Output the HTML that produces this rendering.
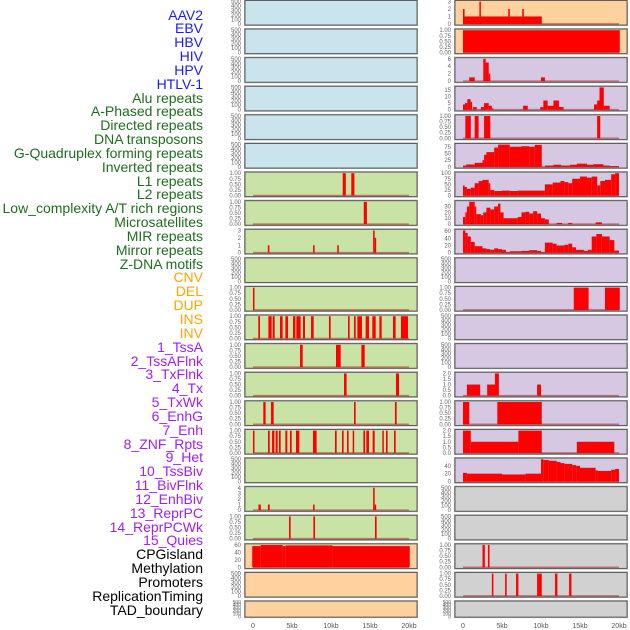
<!DOCTYPE html>
<html><head><meta charset="utf-8">
<style>
html,body{margin:0;padding:0;background:#fff;}
#wrap{position:relative;width:630px;height:630px;overflow:hidden;}
.lab{position:absolute;right:427px;font-family:"Liberation Sans",sans-serif;font-size:14px;line-height:14px;white-space:nowrap;}
svg{position:absolute;left:0;top:0;}
</style></head>
<body>
<div id="wrap">
<div id="labels"></div>
<svg id="chart" width="630" height="630"></svg>
</div>
<script>
// ---- data ----
const labelNames = ["AAV2","EBV","HBV","HIV","HPV","HTLV-1","Alu repeats","A-Phased repeats","Directed repeats","DNA transposons","G-Quadruplex forming repeats","Inverted repeats","L1 repeats","L2 repeats","Low_complexity A/T rich regions","Microsatellites","MIR repeats","Mirror repeats","Z-DNA motifs","CNV","DEL","DUP","INS","INV","1_TssA","2_TssAFlnk","3_TxFlnk","4_Tx","5_TxWk","6_EnhG","7_Enh","8_ZNF_Rpts","9_Het","10_TssBiv","11_BivFlnk","12_EnhBiv","13_ReprPC","14_ReprPCWk","15_Quies","CPGisland","Methylation","Promoters","ReplicationTiming","TAD_boundary"];
const labelColors = ["#1a1aff","#1a1aff","#1a1aff","#1a1aff","#1a1aff","#1a1aff","#1e6e1e","#1e6e1e","#1e6e1e","#1e6e1e","#1e6e1e","#1e6e1e","#1e6e1e","#1e6e1e","#1e6e1e","#1e6e1e","#1e6e1e","#1e6e1e","#1e6e1e","#ffa500","#ffa500","#ffa500","#ffa500","#ffa500","#a020f0","#a020f0","#a020f0","#a020f0","#a020f0","#a020f0","#a020f0","#a020f0","#a020f0","#a020f0","#a020f0","#a020f0","#a020f0","#a020f0","#a020f0","#000","#000","#000","#000","#000"];
const xTickValues = [0,5,10,15,20];
const xTickLabels = ["0","5kb","10kb","15kb","20kb"];
const emptyTicks = [0,100,200,300,400,500];
const binTicks = [0,0.25,0.5,0.75,1];
const binTickLabels = ["0.00","0.25","0.50","0.75","1.00"];

const L6 = [[11.5,11.9,1],[12.6,13.0,1]];
const L7 = [[14.2,14.6,1]];
const L8 = [[1.9,2.1,1],[7.7,7.9,1],[10.8,11.0,1],[15.4,15.6,3],[15.6,15.7,2]];
const L10 = [[0,0.1,1]];
const L11 = [[0.68,0.9,1],[1.97,2.39,1],[2.52,2.78,1],[3.46,3.8,1],[4.15,4.49,1],[5.13,5.43,1],[5.56,6.11,1],[6.41,6.67,1],[7.44,7.78,1],[9.74,9.96,1],[12.18,12.39,1],[12.95,13.16,1],[13.38,13.97,1],[14.44,14.87,1],[15.3,15.73,1],[16.2,16.5,1],[17.95,18.29,1],[18.97,19.87,1]];
const L12 = [[6.03,6.37,1],[10.64,11.24,1],[13.89,14.32,1]];
const L13 = [[11.67,12.0,1],[18.33,18.72,1]];
const L14 = [[1.32,1.62,1],[2.31,2.65,1],[12.95,13.16,1],[18.2,18.42,1]];
const L15 = [[0,0.1,1],[1.92,2.14,1],[2.44,2.74,1],[2.9,3.16,1],[3.33,3.55,1],[4.15,4.4,1],[4.74,4.96,1],[5.51,5.94,1],[7.69,8.16,1],[10.51,10.73,1],[11.41,11.62,1],[12.05,12.26,1],[12.78,12.95,1],[14.15,14.36,1],[14.53,14.87,1],[15.34,15.6,1],[16.58,16.75,1],[17.05,17.26,1],[18.08,18.29,1]];
const L17 = [[0.7,1.0,1],[1.92,2.14,1],[7.7,7.9,1],[15.4,15.6,4],[15.6,15.7,1]];
const L18 = [[4.62,4.83,1],[7.74,7.95,1],[15.64,15.85,1]];
const L19 = [[-0.1,1.0,57],[1.0,3.8,60],[3.8,4.2,57],[4.2,10.2,59],[10.2,20.1,57]];

const R0 = [[0,10.1,1],[0,0.2,2],[2.1,2.2,3],[5.8,6.0,2],[7.6,7.8,2]];
const R1 = [[0,20.1,1]];
const R2 = [[0.8,1.5,1],[2.6,2.9,6],[2.9,3.3,5],[3.3,3.5,2],[10,10.5,1]];
const R3 = [[0,0.26,4],[0.26,0.56,5],[0.56,0.98,8],[0.98,1.15,6],[1.3,1.75,2],[2.3,2.7,2],[2.7,3.3,5],[3.3,3.7,3],[3.7,3.8,1],[7.7,8.3,3],[9.9,10.3,2],[10.3,10.85,7],[10.85,11.6,3],[11.6,12.3,7],[12.3,12.9,2],[16.8,17.2,4],[17.2,17.5,7],[17.5,18.05,17],[18.05,18.8,3]];
const R4 = [[0.3,1.0,1],[1.5,2.0,1],[2.7,3.5,1],[17.2,17.6,1]];
const R5 = [[0,0.4,5],[0.4,1.5,9],[1.5,2.5,15],[2.5,2.7,25],[2.7,3,45],[3,4,55],[4,4.5,72],[4.5,6,83],[6,7.5,75],[7.5,8.5,77],[8.5,9.2,75],[9.2,10.1,82],[10.5,11.6,5],[11.6,12.6,8],[12.6,13.7,5],[13.7,14.6,8],[14.6,15.9,12],[15.9,16.7,8],[16.7,18,10],[18,18.8,5],[18.8,20,3]];
const R6 = [[0,0.2,45],[0.2,0.5,38],[0.5,1,30],[1,1.5,35],[1.5,2,55],[2,2.5,65],[2.5,3.3,70],[3.3,3.5,55],[3.5,4,25],[4,5,20],[5,6,22],[6,7,20],[7,10.5,22],[10.5,11.5,50],[11.5,12.5,58],[12.5,13,65],[13,13.5,60],[13.5,14,55],[14,15,75],[15,15.9,85],[15.9,16.5,80],[16.5,17.2,85],[17.2,17.6,45],[17.6,18.2,65],[18.2,19,70],[19,19.5,95],[19.5,20,100]];
const R7 = [[0,0.3,12],[0.3,0.5,20],[0.5,0.8,30],[0.8,1.5,38],[1.5,1.7,30],[1.7,2.3,17],[2.3,2.6,15],[2.6,3,20],[3,3.5,28],[3.5,4,25],[4,4.5,30],[4.5,4.8,35],[4.8,5.2,20],[5.2,7,10],[7,7.5,12],[7.5,8,20],[8,8.5,21],[8.5,9,18],[9,9.5,22],[9.5,10,18],[10,10.5,10],[10.5,11,8],[12,12.7,2],[13.5,14,2],[17,17.8,3]];
const R8 = [[0,0.3,62],[0.3,0.6,55],[0.6,1,45],[1,1.5,30],[1.5,2.5,18],[2.5,3,12],[3,3.5,10],[3.5,4,8],[4,4.5,12],[4.5,5,10],[5,5.5,8],[5.5,6,2],[6,7.5,4],[7.5,8.5,5],[8.5,9.5,7],[9.5,10,5],[10,10.5,2],[10.5,11.5,28],[11.5,12,25],[12,13,20],[13,13.5,22],[13.5,14,25],[14,14.5,15],[14.5,15.5,8],[15.5,16,5],[16,16.5,8],[16.5,17.1,45],[17.1,17.8,52],[17.8,18.8,45],[18.8,19.4,35],[19.4,20,6]];
const R10 = [[14.2,16.1,1],[18.2,20.1,1]];
const R13 = [[0.5,2.2,1],[3.1,4.1,1],[4.1,4.6,2],[9.5,10,1]];
const R14 = [[0,0.8,1],[4.4,10.1,1]];
const R15 = [[0,1,2],[1,7.1,1],[7.1,10.1,2],[14.6,19.4,1]];
const R16 = [[0,0.5,22],[0.5,5,20],[5,8,18],[8,10,20],[10,10.3,57],[10.3,11,55],[11,12,53],[12,12.5,50],[12.5,13,47],[13,14,45],[14,14.5,42],[14.5,15,40],[15,17,35],[17,17.3,28],[17.3,19,27],[19,19.5,30],[19.5,20,32]];
const R19 = [[2.5,2.8,1],[3.2,3.4,1]];
const R20 = [[3.7,3.9,1],[5.4,5.6,1],[6.8,7.1,1],[9.5,10.1,1],[11.8,12.1,1],[13.6,13.9,1]];

const BLUE="#c9e4ec", GREEN="#c9e2a6", ORANGE="#ffd19e", LAV="#d6c7e3", GREY="#d1d1d1";
function P(data,max,ticks,tl){return {data:data,max:max,ticks:ticks,tl:tl};}
const E = null;
const leftPanels = [E,E,E,E,E,E,
 P(L6,1,binTicks,binTickLabels),P(L7,1,binTicks,binTickLabels),P(L8,3,[0,1,2,3],["0","1","2","3"]),E,
 P(L10,1,binTicks,binTickLabels),P(L11,1,binTicks,binTickLabels),P(L12,1,binTicks,binTickLabels),P(L13,1,binTicks,binTickLabels),
 P(L14,1,binTicks,binTickLabels),P(L15,1,binTicks,binTickLabels),E,P(L17,4,[0,1,2,3,4],["0","1","2","3","4"]),
 P(L18,1,binTicks,binTickLabels),P(L19,60,[0,20,40,60],["0","20","40","60"]),E,E];
const leftBg = [BLUE,BLUE,BLUE,BLUE,BLUE,BLUE,GREEN,GREEN,GREEN,GREEN,GREEN,GREEN,GREEN,GREEN,GREEN,GREEN,GREEN,GREEN,GREEN,ORANGE,ORANGE,ORANGE];
const rightPanels = [P(R0,3,[0,1,2,3],["0","1","2","3"]),P(R1,1,binTicks,binTickLabels),P(R2,6,[0,2,4,6],["0","2","4","6"]),
 P(R3,17,[0,5,10,15],["0","5","10","15"]),P(R4,1,binTicks,binTickLabels),P(R5,83,[0,25,50,75],["0","25","50","75"]),
 P(R6,100,[0,25,50,75,100],["0","25","50","75","100"]),P(R7,38,[0,10,20,30],["0","10","20","30"]),P(R8,62,[0,20,40,60],["0","20","40","60"]),
 E,P(R10,1,binTicks,binTickLabels),E,E,P(R13,2,[0,0.5,1,1.5,2],["0.0","0.5","1.0","1.5","2.0"]),P(R14,1,binTicks,binTickLabels),
 P(R15,2,[0,0.5,1,1.5,2],["0.0","0.5","1.0","1.5","2.0"]),P(R16,57,[0,20,40],["0","20","40"]),E,E,
 P(R19,1,binTicks,binTickLabels),P(R20,1,binTicks,binTickLabels),E];
const rightBg = [ORANGE,ORANGE,LAV,LAV,LAV,LAV,LAV,LAV,LAV,LAV,LAV,LAV,LAV,LAV,LAV,LAV,LAV,GREY,GREY,GREY,GREY,GREY];

// ---- render ----
const NS="http://www.w3.org/2000/svg";
const svg=document.getElementById('chart');
function mk(tag,attrs,parent){const e=document.createElementNS(NS,tag);for(const k in attrs)e.setAttribute(k,attrs[k]);(parent||svg).appendChild(e);return e;}
const labDiv=document.getElementById('labels');
labelNames.forEach((n,i)=>{
  const d=document.createElement('div');
  d.className='lab';
  d.style.top=(15+i*13.84-7.5)+'px';
  d.style.color=labelColors[i];
  d.textContent=n;
  
  
  labDiv.appendChild(d);
});
function drawColumn(panels,bgs,px,x0,colName){
  const pw=172, kb=7.8;
  const xs=v=>x0+v*kb;
  panels.forEach((p,i)=>{
    const top=0.5+i*28.6, h=(i===21)?16:24.5;
    const g=mk('g',{});
    
    
    mk('rect',{x:px-0.5,y:top-0.5,width:pw+1,height:h+1,fill:'none',stroke:'#aaa','stroke-width':1},g);
    mk('rect',{x:px,y:top,width:pw,height:h,fill:bgs[i],stroke:'#555','stroke-width':0.9},g);
    const max=p?p.max:500;
    const ticks=p?p.ticks:emptyTicks;
    const tl=p?p.tl:emptyTicks.map(String);
    const ys=v=>top+h-((v+0.05*max)/(1.1*max))*h;
    ticks.forEach((t,k)=>{
      const tx=mk('text',{x:px-4,y:ys(t)+2,'font-size':(h<20?5:6),'font-family':'Liberation Sans, sans-serif',fill:'#666','text-anchor':'end'},g);
      
      
      tx.textContent=tl[k];
    });
    if(p){
      p.data.forEach(s=>{
        const r=mk('rect',{x:xs(s[0]),y:ys(s[2]),width:Math.max(xs(s[1])-xs(s[0]),1.5),height:ys(0)-ys(s[2]),fill:'#ff0000'},g);
        
        
      });
      const bl=mk('line',{x1:xs(0),x2:xs(20),y1:ys(0),y2:ys(0),stroke:'rgba(170,20,20,0.5)','stroke-width':1.5},g);
      
      
    }
  });
  xTickValues.forEach((v,k)=>{
    const t=mk('text',{x:xs(v),y:628,'font-size':7,'font-family':'Liberation Sans, sans-serif',fill:'#555','text-anchor':'middle'});
    
    
    t.textContent=xTickLabels[k];
  });
}
drawColumn(leftPanels,leftBg,245,253,'left');
drawColumn(rightPanels,rightBg,455,463,'right');
</script>
</body></html>
